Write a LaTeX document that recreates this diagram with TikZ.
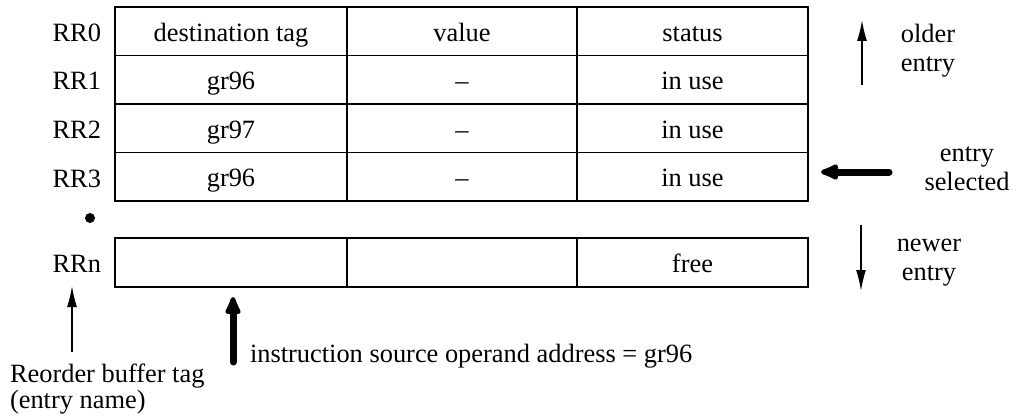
\documentclass[tikz,border=0pt]{standalone}
\usepackage{fontspec}
\setmainfont{Liberation Serif}
\usetikzlibrary{arrows.meta}
\begin{document}
\begin{tikzpicture}[x=1pt,y=-1pt,
  every node/.style={font=\fontsize{26.4}{30}\selectfont, inner sep=0pt, outer sep=0pt},
  cell/.style={draw, line width=1.1pt, anchor=north west, minimum height=48.5pt,
               text height=20pt, text depth=0pt},
  colA/.style={cell, minimum width=232pt},
  colB/.style={cell, minimum width=230pt},
  colC/.style={cell, minimum width=231pt},
  rowlabel/.style={anchor=base east},
  sidelabel/.style={anchor=base},
  thinarrow/.style={line width=1.6pt, -{Latex[length=21pt,width=10pt]}},
  thickarrow/.style={line width=7pt, line cap=round, -{Latex[length=24pt,width=19pt,round]}}
]
\useasboundingbox (0,0) rectangle (1017,417);

% reorder buffer entries
\node[colA] (d0) at (115,7)    {destination tag};
\node[colB] (v0) at (347,7)    {value};
\node[colC] (s0) at (577,7)    {status};
\node[colA] (d1) at (115,55.5) {gr96};
\node[colB] (v1) at (347,55.5) {–};
\node[colC] (s1) at (577,55.5) {in use};
\node[colA] (d2) at (115,104)  {gr97};
\node[colB] (v2) at (347,104)  {–};
\node[colC] (s2) at (577,104)  {in use};
\node[colA] (d3) at (115,152.5){gr96};
\node[colB] (v3) at (347,152.5){–};
\node[colC] (s3) at (577,152.5){in use};

\node[colA, minimum height=49pt] (dn) at (115,238) {};
\node[colB, minimum height=49pt] (vn) at (347,238) {};
\node[colC, minimum height=49pt] (sn) at (577,238) {free};

% entry names
\node[rowlabel] (r0) at (101,41.5)  {RR0};
\node[rowlabel] (r1) at (101,90)    {RR1};
\node[rowlabel] (r2) at (101,138.5) {RR2};
\node[rowlabel] (r3) at (101,187)   {RR3};
\node[rowlabel] (rn) at (101,272)   {RRn};
\node[circle, fill, minimum size=10pt] (dots) at (90,218) {};

% tag pointer
\coordinate (tagfoot) at (72,352);
\coordinate (tagtip) at (72,286);
\draw[thinarrow] (tagfoot) -- (tagtip);
\node[anchor=base west] (tag1) at (10,382) {Reorder buffer tag};
\node[anchor=base west] (tag2) at (10,408) {(entry name)};

% operand lookup
\coordinate (srcfoot) at (233,362);
\coordinate (srctip) at (233,297);
\draw[thickarrow] (srcfoot) -- (srctip);
\node[anchor=base west] (src) at (250,362) {instruction source operand address = gr96};

% age direction
\coordinate (oldfoot) at (862,85);
\coordinate (oldtip) at (862,20);
\draw[thinarrow] (oldfoot) -- (oldtip);
\node[sidelabel] (old1) at (928,43) {older};
\node[sidelabel] (old2) at (928,71.5) {entry};

\coordinate (newfoot) at (861,225);
\coordinate (newtip) at (861,291);
\draw[thinarrow] (newfoot) -- (newtip);
\node[sidelabel] (new1) at (929,251.5) {newer};
\node[sidelabel] (new2) at (929,280) {entry};

% selected entry
\coordinate (selfoot) at (889,172);
\coordinate (seltip) at (821,172);
\draw[thickarrow] (selfoot) -- (seltip);
\node[sidelabel] (sel1) at (967,161.5) {entry};
\node[sidelabel] (sel2) at (967,190) {selected};
\end{tikzpicture}
\end{document}
